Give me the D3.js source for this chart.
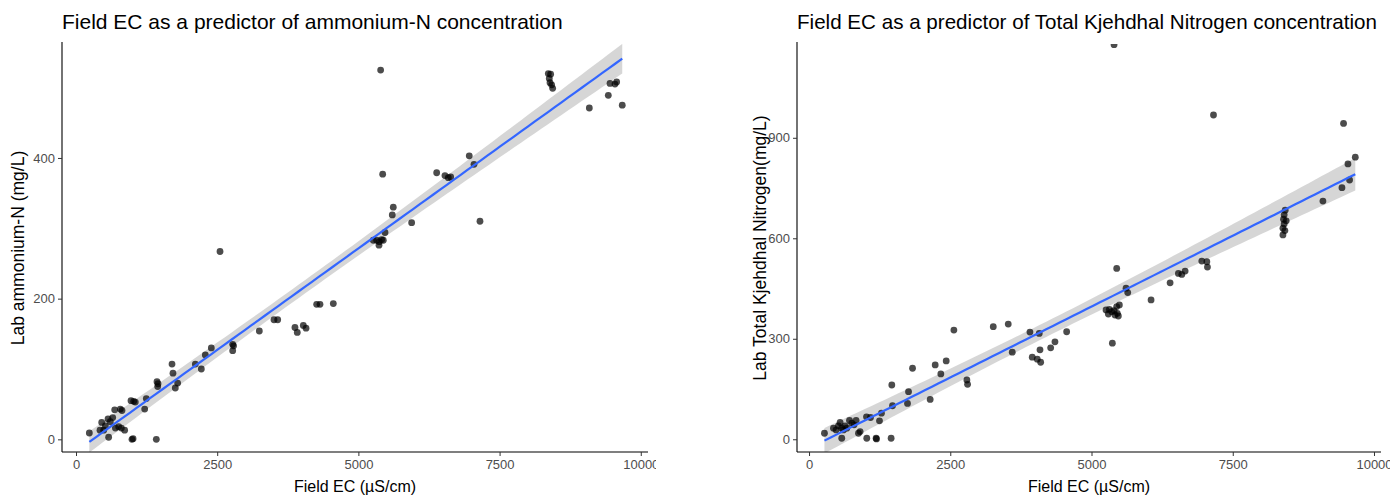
<!DOCTYPE html>
<html>
<head>
<meta charset="utf-8">
<script src="https://cdn.jsdelivr.net/npm/d3@7"></script>
<style>
  body { margin: 0; background: #fff; }
  svg { display: block; font-family: "Liberation Sans", Arial, sans-serif; }
</style>
</head>
<body>
<svg id="chart" width="1390" height="496"></svg>
<script>
// --- data ---
// left: field EC (µS/cm) vs lab ammonium-N (mg/L)
const ammoniumEC = [236, 455, 425, 490, 520, 567, 608, 650, 685, 578, 697, 756, 785, 814, 861, 803, 991, 1010, 974, 1021,
  1050, 1216, 1245, 1422, 1434, 1452, 1446, 1700, 1717, 1758, 1800, 2113, 2219, 2290, 2396, 2550, 2774, 2790, 2774, 3246,
  3506, 3571, 3877, 3918, 4025, 4073, 4261, 4320, 4556, 5264, 5324, 5365, 5370, 5394, 5412, 5430, 5441, 5471, 5600, 5618,
  5943, 6386, 6533, 6592, 6634, 6963, 7047, 7153, 8363, 8380, 8393, 8404, 8422, 8440, 9089, 9425, 9455, 9543, 9573, 9672];
const ammoniumN = [9, 24, 13, 13, 19, 29, 25, 31, 42, 3, 16, 18, 43, 41, 13, 16, 0, 1, 55, 54,
  53, 43, 58, 0, 82, 79, 75, 107, 94, 73, 80, 107, 100, 120, 130, 267, 135, 133, 126, 154,
  170, 170, 159, 152, 162, 158, 192, 192, 193, 283, 283, 276, 281, 525, 284, 377, 283, 294, 319, 330,
  308, 379, 375, 372, 373, 403, 391, 310, 520, 513, 507, 519, 504, 499, 471, 489, 506, 505, 508, 475];

// right: field EC (µS/cm) vs lab TKN (mg/L)
const tknEC = [273, 432, 479, 521, 550, 579, 609, 638, 668, 716, 757, 797, 833, 875, 904, 579, 1022, 1187, 1194, 1453,
  1017, 1088, 1247, 1282, 1465, 1477, 1761, 1743, 1832, 2144, 2233, 2333, 2428, 2794, 2806, 2564, 3261, 3526, 3597, 3910,
  3951, 4040, 4100, 4075, 4088, 4277, 4353, 4560, 5257, 5316, 5298, 5358, 5399, 5416, 5446, 5457, 5493, 5475, 5369, 5446,
  5399, 5611, 5641, 6054, 6391, 6538, 6598, 6657, 6952, 7041, 7052, 7159, 8428, 8410, 8399, 8446, 8410, 8388, 8423, 8388,
  9096, 9433, 9461, 9539, 9568, 9669];
const tknN = [18, 33, 28, 40, 50, 33, 28, 40, 33, 56, 48, 43, 56, 18, 23, 3, 3, 3, 1, 3,
  67, 65, 55, 78, 162, 100, 142, 107, 212, 119, 222, 195, 234, 177, 164, 326, 336, 344, 260, 320,
  245, 239, 230, 316, 267, 273, 291, 321, 386, 388, 374, 381, 384, 371, 396, 376, 401, 368, 287, 510,
  1178, 451, 438, 416, 467, 495, 492, 502, 532, 530, 514, 968, 684, 670, 657, 652, 643, 630, 623, 610,
  711, 751, 943, 822, 774, 842];

const xTicks = [0, 2500, 5000, 7500, 10000];
const ammoniumTicks = [0, 200, 400];
const tknTicks = [0, 300, 600, 900];

const panels = [
  { title: "Field EC as a predictor of ammonium-N concentration", ylab: "Lab ammonium-N (mg/L)",
    xs: ammoniumEC, ys: ammoniumN, yTicks: ammoniumTicks, titleSize: 21,
    left: 62, right: 648, xDomain: [-248, 10128], yDomain: [-18, 562], ylabX: 18, clipRight: 656 },
  { title: "Field EC as a predictor of Total Kjehdhal Nitrogen concentration", ylab: "Lab Total Kjehdhal Nitrogen(mg/L)",
    xs: tknEC, ys: tknN, yTicks: tknTicks, titleSize: 20.6,
    left: 797, right: 1381, xDomain: [-213, 10124], yDomain: [-38, 1180], ylabX: 760, clipRight: 1390 }
];

const plotTop = 44, plotBottom = 452;
const svg = d3.select("#chart");
const defs = svg.append("defs");

// ordinary least squares + 95% confidence band, like geom_smooth(method = "lm")
function fitLm(xs, ys) {
  const n = xs.length;
  const mx = d3.mean(xs), my = d3.mean(ys);
  let sxx = 0, sxy = 0;
  xs.forEach((x, i) => { sxx += (x - mx) ** 2; sxy += (x - mx) * (ys[i] - my); });
  const b = sxy / sxx, a = my - b * mx;
  const rss = d3.sum(xs, (x, i) => (ys[i] - a - b * x) ** 2);
  const s = Math.sqrt(rss / (n - 2));
  const tq = 1.99;
  return x => {
    const yhat = a + b * x;
    const se = s * Math.sqrt(1 / n + (x - mx) ** 2 / sxx);
    return { x, y: yhat, lo: yhat - tq * se, hi: yhat + tq * se };
  };
}

panels.forEach((p, k) => {
  const x = d3.scaleLinear().domain(p.xDomain).range([p.left, p.right]);
  const y = d3.scaleLinear().domain(p.yDomain).range([plotBottom, plotTop]);

  defs.append("clipPath").attr("id", "panel" + k)
    .append("rect").attr("x", p.left).attr("y", plotTop).attr("width", p.right - p.left).attr("height", plotBottom - plotTop);
  defs.append("clipPath").attr("id", "whole" + k)
    .append("rect").attr("x", p.left - 80).attr("y", 0).attr("width", p.clipRight - p.left + 80).attr("height", 496);

  const g = svg.append("g").attr("clip-path", `url(#whole${k})`);
  const plot = g.append("g").attr("clip-path", `url(#panel${k})`);

  const fit = fitLm(p.xs, p.ys);
  const [x0, x1] = d3.extent(p.xs);
  const grid = d3.range(80).map(i => fit(x0 + (x1 - x0) * i / 79));

  plot.append("path")
    .datum(grid)
    .attr("fill", "#999999")
    .attr("fill-opacity", 0.4)
    .attr("d", d3.area().x(d => x(d.x)).y0(d => y(d.lo)).y1(d => y(d.hi)));

  plot.selectAll("circle")
    .data(p.xs.map((v, i) => [v, p.ys[i]]))
    .join("circle")
    .attr("cx", d => x(d[0]))
    .attr("cy", d => y(d[1]))
    .attr("r", 3.4)
    .attr("fill", "#000")
    .attr("fill-opacity", 0.7);

  plot.append("path")
    .datum(grid)
    .attr("fill", "none")
    .attr("stroke", "#3366FF")
    .attr("stroke-width", 2.2)
    .attr("d", d3.line().x(d => x(d.x)).y(d => y(d.y)));

  // axes
  const xAxis = g.append("g").attr("transform", `translate(0,${plotBottom})`)
    .call(d3.axisBottom(x).tickValues(xTicks).tickFormat(d3.format("d")).tickSizeOuter(0).tickSize(4).tickPadding(4));
  const yAxis = g.append("g").attr("transform", `translate(${p.left},0)`)
    .call(d3.axisLeft(y).tickValues(p.yTicks).tickFormat(d3.format("d")).tickSizeOuter(0).tickSize(4).tickPadding(3));

  [xAxis, yAxis].forEach(ax => {
    ax.select(".domain").attr("stroke", "#000").attr("stroke-width", 1.1);
    ax.selectAll(".tick line").attr("stroke", "#333");
    ax.selectAll(".tick text").attr("fill", "#4d4d4d").style("font-size", "13px").style("font-family", "Liberation Sans, Arial, sans-serif");
  });
  xAxis.select(".domain").attr("d", `M${p.left},0H${p.right}`);
  yAxis.select(".domain").attr("d", `M0,${plotTop - 2}V${plotBottom}`);

  // titles
  g.append("text")
    .attr("x", p.left).attr("y", 29)
    .style("font-size", p.titleSize + "px").attr("fill", "#000")
    .text(p.title);

  g.append("text")
    .attr("x", (p.left + p.right) / 2).attr("y", 492)
    .attr("text-anchor", "middle")
    .style("font-size", "16px").attr("fill", "#000")
    .text("Field EC (µS/cm)");

  g.append("text")
    .attr("transform", `translate(${p.ylabX},${(plotTop + plotBottom) / 2}) rotate(-90)`)
    .attr("text-anchor", "middle").attr("dy", "0.35em")
    .style("font-size", "17.5px").attr("fill", "#000")
    .text(p.ylab);
});
</script>
</body>
</html>
